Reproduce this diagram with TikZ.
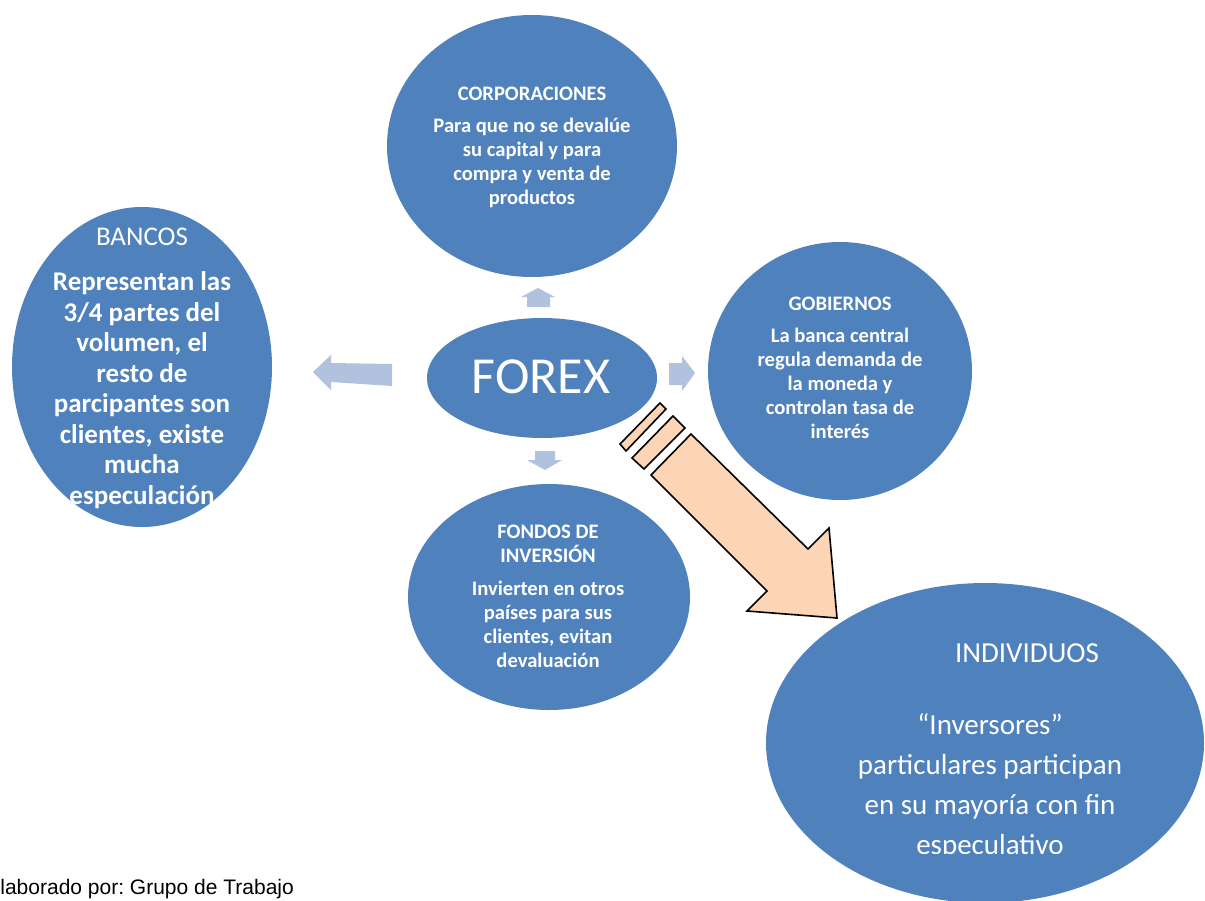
\documentclass[tikz,border=0pt]{standalone}
\usepackage{fontspec}
\setmainfont{Carlito}
\newfontfamily\arialfont{Liberation Sans}
\usetikzlibrary{shapes.geometric}
\definecolor{azul}{RGB}{79,129,189}
\definecolor{azulclaro}{RGB}{176,194,222}
\definecolor{durazno}{RGB}{251,213,181}
\frenchspacing

\begin{document}
\begin{tikzpicture}[x=0.5pt,y=-0.5pt]
  \clip (0,0) rectangle (1205,900);

  \begin{scope}[every node/.style={ellipse, fill=azul, inner sep=0}]
    \node[minimum width=145pt, minimum height=131pt] (corp)   at (532,146) {};
    \node[minimum width=130pt, minimum height=160pt] (bancos) at (142,367) {};
    \node[minimum width=115pt, minimum height=60pt]  (forex)  at (542,378) {};
    \node[minimum width=132pt, minimum height=129pt] (gob)    at (840,371) {};
    \node[minimum width=141pt, minimum height=113pt] (fondos) at (549,597) {};
    \node[minimum width=219pt, minimum height=160pt] (indiv)  at (985,743) {};
  \end{scope}

  \begin{scope}[every node/.style={text=white, align=center, inner sep=0, anchor=north,
      font=\bfseries\fontsize{10.3}{12}\selectfont}]
    \node (corptxt) at (532,87) {CORPORACIONES\\[4pt]Para que no se devalúe\\su capital y para\\compra y venta de\\productos};
    \node (gobtxt) at (840,297) {GOBIERNOS\\[4pt]La banca central\\regula demanda de\\la moneda y\\controlan tasa de\\interés};
    \node (fondostxt) at (548,525) {FONDOS DE\\INVERSIÓN\\[4.5pt]Invierten en otros\\países para sus\\clientes, evitan\\devaluación};
  \end{scope}

  \begin{scope}
    \clip (0,0) rectangle (300,488) (68,488) rectangle (213,510);
    \node[text=white, align=center, inner sep=0, anchor=north,
      font=\fontsize{13.5}{15.25}\selectfont] (bancostxt) at (142,228)
      {BANCOS\\[7.25pt]\textbf{Representan las}\\\textbf{3/4 partes del}\\\textbf{volumen, el}\\\textbf{resto de}\\\textbf{parcipantes son}\\\textbf{clientes, existe}\\\textbf{mucha}\\\textbf{especulación}};
  \end{scope}

  \node[text=white, inner sep=0, anchor=base, font=\fontsize{26}{30}\selectfont] (forextxt) at (541,393) {FOREX};

  \begin{scope}[every node/.style={text=white, align=center, inner sep=0, anchor=north,
      font=\fontsize{14.5}{20}\selectfont}]
    \clip (700,0) rectangle (1205,853);
    \node (indivtit) at (1027,643) {INDIVIDUOS};
    \node (indivtxt) at (990,713) {“Inversores”\\particulares participan\\en su mayoría con fin\\especulativo};
  \end{scope}

  \begin{scope}[fill=azulclaro]
    \fill (521,297) -- (538,288) -- (555,297) -- (550,297) -- (550,307) -- (527,307) -- (527,297) -- cycle;
    \fill (313,372) -- (331,355) -- (331,363) -- (392,364) -- (392,386) -- (331,382) -- (331,390) -- cycle;
    \fill (669,363) -- (682,363) -- (682,356) -- (695,373) -- (682,391) -- (682,385) -- (669,385) -- cycle;
    \fill (535,451) -- (555,451) -- (555,460) -- (562,460) -- (545,470) -- (527,460) -- (535,460) -- cycle;
  \end{scope}

  \begin{scope}[fill=durazno, draw=black, line width=0.8pt, line join=miter]
    \filldraw (620,444) -- (660,403) -- (666,409) -- (626,451) -- cycle;
    \filldraw (632,458) -- (673,416) -- (685,428) -- (644,469) -- cycle;
    \filldraw (651,475) -- (691,434) -- (808,549) -- (829,528) -- (837,618) -- (747,611) -- (767,591) -- cycle;
  \end{scope}

  \node[anchor=base west, inner sep=0, font=\arialfont\fontsize{10.5}{12}\selectfont] (fuente) at (0,894) {laborado por: Grupo de Trabajo};
\end{tikzpicture}
\end{document}
